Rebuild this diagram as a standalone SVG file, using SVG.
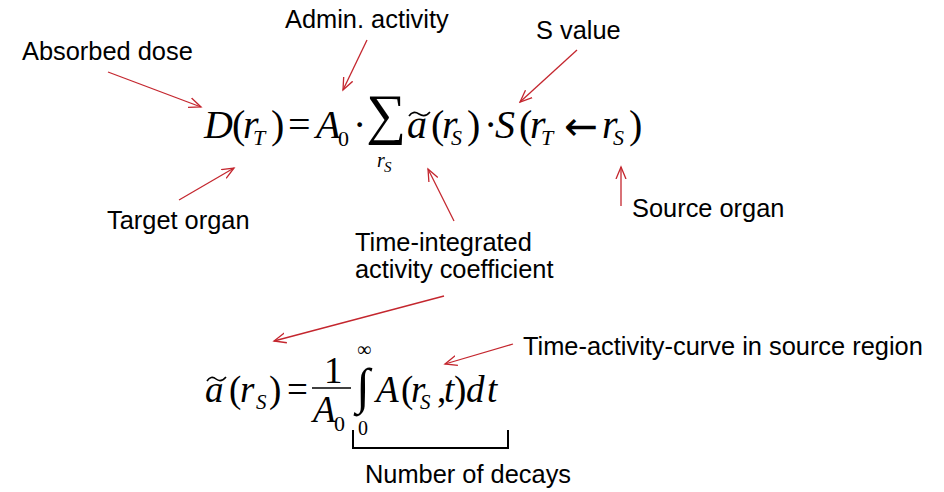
<svg xmlns="http://www.w3.org/2000/svg" width="944" height="492" viewBox="0 0 944 492">
<style>
.lbl{font-family:"Liberation Sans",Arial,sans-serif;font-size:25.4px;fill:#000}
.m{font-family:"Liberation Serif","Times New Roman",serif;fill:#000}
.i{font-style:italic}
.arr{stroke:#c4262e;stroke-width:1.3;fill:none;marker-end:url(#ah)}
.tl{fill:none;stroke:#000;stroke-width:1.6}
</style>
<defs>
<marker id="ah" markerUnits="userSpaceOnUse" markerWidth="14" markerHeight="12" refX="12" refY="5" orient="auto" viewBox="0 0 14 10">
<path d="M0,0 L12,5 L0,10" fill="none" stroke="#c4262e" stroke-width="1.3"/>
</marker>
</defs>
<rect width="944" height="492" fill="#fff"/>
<g id="labels">
<g id="absorbed-dose"><text class="lbl" x="22" y="60">Absorbed dose</text></g>
<g id="admin-activity"><text class="lbl" x="285" y="28">Admin. activity</text></g>
<g id="s-value"><text class="lbl" x="536" y="39">S value</text></g>
<g id="target-organ"><text class="lbl" x="107" y="229">Target organ</text></g>
<g id="source-organ"><text class="lbl" x="632" y="217">Source organ</text></g>
<g id="tiac"><text class="lbl" x="355" y="251">Time-integrated</text><text class="lbl" x="355" y="278">activity coefficient</text></g>
<g id="tac"><text class="lbl" x="523" y="355">Time-activity-curve in source region</text></g>
<g id="decays"><text class="lbl" x="365" y="483">Number of decays</text></g>
</g>
<g id="formula1" class="m" font-size="40">
<text x="204" y="138" class="i">D</text>
<text x="232" y="138">(</text>
<text x="243" y="138" class="i">r</text>
<text x="253" y="145" class="i" font-size="22">T</text>
<text x="271" y="138">)</text>
<text x="288" y="138">=</text>
<text x="316" y="138" class="i">A</text>
<text x="338" y="146" font-size="22">0</text>
<text x="353" y="138">·</text>
<text x="366" y="133" font-size="56">∑</text>
<text x="377" y="167" class="i" font-size="20">r</text>
<text x="384" y="172" class="i" font-size="15">S</text>
<text x="407" y="138" class="i">a</text>
<path class="tl" d="M409,116 q4,-6 10,-2 t11,-2"/>
<text x="431" y="138">(</text>
<text x="442" y="138" class="i">r</text>
<text x="451" y="145" class="i" font-size="22">S</text>
<text x="467" y="138">)</text>
<text x="484" y="138">·</text>
<text x="495" y="138" class="i">S</text>
<text x="519" y="138">(</text>
<text x="530" y="138" class="i">r</text>
<text x="541" y="145" class="i" font-size="22">T</text>
<text x="564" y="140" font-family="'DejaVu Sans',sans-serif" font-size="40" textLength="34" lengthAdjust="spacingAndGlyphs">←</text>
<text x="602" y="138" class="i">r</text>
<text x="613" y="145" class="i" font-size="22">S</text>
<text x="629" y="138">)</text>
</g>
<g id="formula2" class="m" font-size="37">
<text x="205" y="402" class="i">a</text>
<path class="tl" d="M207,381 q4,-6 9,-2 t10,-2"/>
<text x="229" y="402">(</text>
<text x="240" y="402" class="i">r</text>
<text x="256" y="409" class="i" font-size="21">S</text>
<text x="269" y="402">)</text>
<text x="287" y="402">=</text>
<text x="324" y="383">1</text>
<line x1="312" y1="388" x2="351" y2="388" stroke="#000" stroke-width="1.5"/>
<text x="313" y="422" class="i">A</text>
<text x="334" y="431" font-size="22">0</text>
<text x="356" y="403" font-size="50">∫</text>
<text x="357" y="356" font-size="20">∞</text>
<text x="358" y="435" font-size="20">0</text>
<text x="376" y="402" class="i">A</text>
<text x="401" y="402">(</text>
<text x="411" y="402" class="i">r</text>
<text x="420" y="409" class="i" font-size="21">S</text>
<text x="437" y="402">,</text>
<text x="444" y="402" class="i">t</text>
<text x="454" y="402">)</text>
<text x="466" y="402" class="i">d</text>
<text x="487" y="402" class="i">t</text>
</g>
<g id="bracket">
<path d="M353,430 V448 H508 V430" fill="none" stroke="#000" stroke-width="2"/>
</g>
<g id="connectors">
<line class="arr" x1="108" y1="72" x2="201" y2="107"/>
<line class="arr" x1="367" y1="40" x2="343" y2="90"/>
<line class="arr" x1="577" y1="50" x2="520" y2="102"/>
<line class="arr" x1="179" y1="200" x2="234" y2="168"/>
<line class="arr" x1="454" y1="221" x2="428" y2="169"/>
<line class="arr" x1="621" y1="206" x2="621" y2="167"/>
<line class="arr" x1="444" y1="296" x2="274" y2="341"/>
<line class="arr" x1="513" y1="344" x2="445" y2="364"/>
</g>
</svg>
